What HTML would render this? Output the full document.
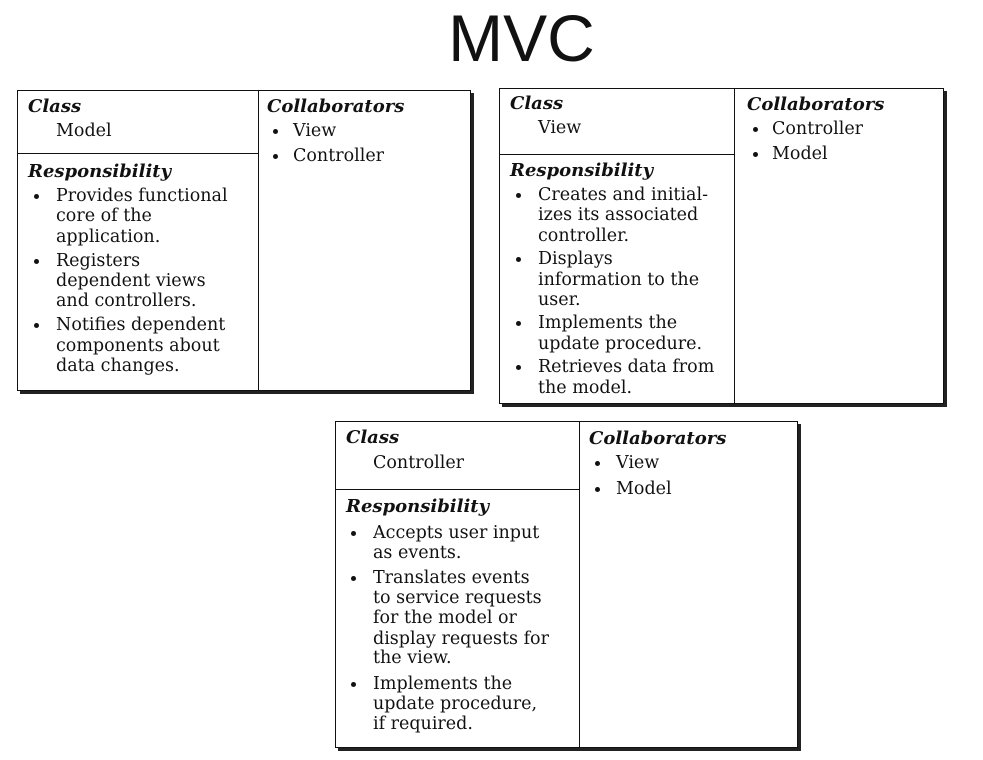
<!DOCTYPE html>
<html><head><meta charset="utf-8"><style>
body{margin:0;width:983px;height:760px;background:#fff;position:relative;overflow:hidden;font-family:"DejaVu Serif",serif;color:#111}
.t{position:absolute;left:0;width:983px;top:0px;text-align:center;font-family:"Liberation Sans",sans-serif;font-size:66px;line-height:76px;margin-left:30px}
.card{position:absolute;border:1.5px solid #111;background:#fff;box-shadow:3px 3px 0 #222}
.v{position:absolute;top:0;bottom:0;border-left:1.5px solid #111}
.h{position:absolute;left:0;border-top:1.5px solid #111}
.l{position:absolute;font-size:17.5px;line-height:20px;white-space:nowrap}
.b{font-weight:bold;font-style:italic;font-size:18px}
.d{position:absolute;width:5px;height:5px;border-radius:50%;background:#111}
</style></head><body>
<div class="t">MVC</div>

<div class="card" style="left:17px;top:90px;width:452px;height:299px">
<div class="v" style="left:240px"></div><div class="h" style="top:62px;width:241px"></div>
<div class="l b" style="left:10px;top:6px">Class</div>
<div class="l" style="left:38px;top:30px">Model</div>
<div class="l b" style="left:10px;top:71px">Responsibility</div>
<div class="d" style="left:16px;top:103px"></div>
<div class="l" style="left:38px;top:95px">Provides functional</div>
<div class="l" style="left:38px;top:115px">core of the</div>
<div class="l" style="left:38px;top:136px">application.</div>
<div class="d" style="left:16px;top:168px"></div>
<div class="l" style="left:38px;top:160px">Registers</div>
<div class="l" style="left:38px;top:180px">dependent views</div>
<div class="l" style="left:38px;top:200px">and controllers.</div>
<div class="d" style="left:16px;top:232px"></div>
<div class="l" style="left:38px;top:224px">Notifies dependent</div>
<div class="l" style="left:38px;top:245px">components about</div>
<div class="l" style="left:38px;top:265px">data changes.</div>
<div class="l b" style="left:249px;top:6px">Collaborators</div>
<div class="d" style="left:255px;top:38px"></div>
<div class="l" style="left:275px;top:30px">View</div>
<div class="d" style="left:255px;top:63px"></div>
<div class="l" style="left:275px;top:55px">Controller</div>
</div>

<div class="card" style="left:499px;top:88px;width:443px;height:314px">
<div class="v" style="left:234px"></div><div class="h" style="top:65px;width:235px"></div>
<div class="l b" style="left:10px;top:5px">Class</div>
<div class="l" style="left:38px;top:29px">View</div>
<div class="l b" style="left:10px;top:72px">Responsibility</div>
<div class="d" style="left:16px;top:104px"></div>
<div class="l" style="left:38px;top:96px">Creates and initial-</div>
<div class="l" style="left:38px;top:116px">izes its associated</div>
<div class="l" style="left:38px;top:137px">controller.</div>
<div class="d" style="left:16px;top:168px"></div>
<div class="l" style="left:38px;top:160px">Displays</div>
<div class="l" style="left:38px;top:181px">information to the</div>
<div class="l" style="left:38px;top:201px">user.</div>
<div class="d" style="left:16px;top:232px"></div>
<div class="l" style="left:38px;top:224px">Implements the</div>
<div class="l" style="left:38px;top:245px">update procedure.</div>
<div class="d" style="left:16px;top:276px"></div>
<div class="l" style="left:38px;top:268px">Retrieves data from</div>
<div class="l" style="left:38px;top:289px">the model.</div>
<div class="l b" style="left:247px;top:6px">Collaborators</div>
<div class="d" style="left:253px;top:38px"></div>
<div class="l" style="left:272px;top:30px">Controller</div>
<div class="d" style="left:253px;top:63px"></div>
<div class="l" style="left:272px;top:55px">Model</div>
</div>

<div class="card" style="left:335px;top:421px;width:461px;height:325px">
<div class="v" style="left:243px"></div><div class="h" style="top:67px;width:244px"></div>
<div class="l b" style="left:10px;top:6px">Class</div>
<div class="l" style="left:37px;top:31px">Controller</div>
<div class="l b" style="left:10px;top:75px">Responsibility</div>
<div class="d" style="left:15px;top:109px"></div>
<div class="l" style="left:37px;top:101px">Accepts user input</div>
<div class="l" style="left:37px;top:121px">as events.</div>
<div class="d" style="left:15px;top:154px"></div>
<div class="l" style="left:37px;top:146px">Translates events</div>
<div class="l" style="left:37px;top:166px">to service requests</div>
<div class="l" style="left:37px;top:186px">for the model or</div>
<div class="l" style="left:37px;top:207px">display requests for</div>
<div class="l" style="left:37px;top:226px">the view.</div>
<div class="d" style="left:15px;top:260px"></div>
<div class="l" style="left:37px;top:252px">Implements the</div>
<div class="l" style="left:37px;top:272px">update procedure,</div>
<div class="l" style="left:37px;top:292px">if required.</div>
<div class="l b" style="left:253px;top:7px">Collaborators</div>
<div class="d" style="left:259px;top:39px"></div>
<div class="l" style="left:280px;top:31px">View</div>
<div class="d" style="left:259px;top:65px"></div>
<div class="l" style="left:280px;top:57px">Model</div>
</div>
</body></html>
